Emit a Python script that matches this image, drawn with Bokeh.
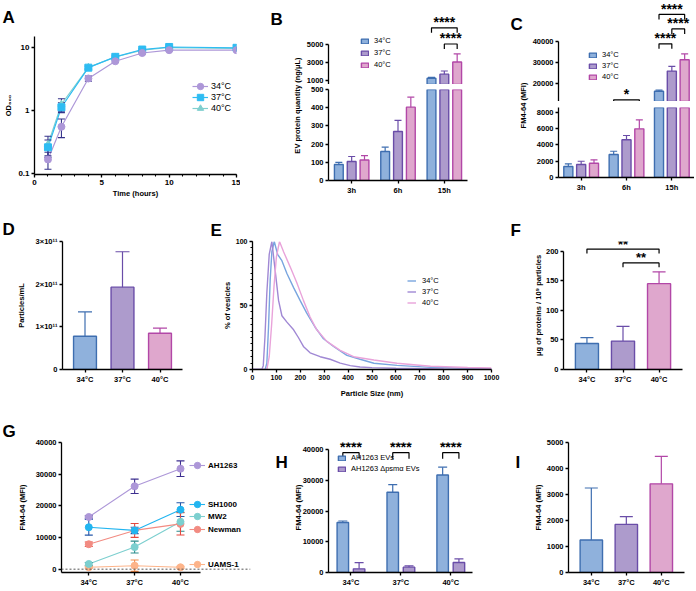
from bokeh.plotting import figure
from bokeh.models import (Range1d, FixedTicker, Label, Legend, LegendItem, Span,
                          ColumnDataSource, Title, Spacer)
from bokeh.layouts import row, column
from bokeh.embed import file_html
from bokeh.resources import INLINE

FONT = "Liberation Sans"

# ---------------- data ----------------
temps = ["34°C", "37°C", "40°C"]
times = ["3h", "6h", "15h"]

# A: growth curves (OD600)
time_h = [1, 2, 4, 6, 8, 10, 15]
od_34 = [0.167, 0.55, 3.2, 6.0, 8.1, 9.0, 9.0]
od_37 = [0.26, 1.12, 4.75, 7.05, 9.2, 10.1, 9.8]
od_40 = [0.29, 1.25, 4.8, 7.0, 9.0, 9.9, 9.6]
od_34_sd = [0.05, 0.18, 0.3, 0.25, 0.3, 0.3, 0.3]
od_37_sd = [0.08, 0.2, 0.25, 0.25, 0.3, 0.3, 0.3]
od_40_sd = [0.1, 0.28, 0.25, 0.25, 0.3, 0.3, 0.3]

# B: EV protein quantity (ng/uL)
ev_34 = [88, 159, 1200]
ev_37 = [104, 269, 1650]
ev_40 = [113, 403, 3000]
ev_34_sd = [12, 24, 100]
ev_37_sd = [28, 61, 350]
ev_40_sd = [24, 55, 900]
ev_sig = [(2, 0, 2, 6800, "****"), (2, 1, 2, 5000, "****")]

# C: FM4-64 (MFI)
fm_34 = [1350, 2830, 16300]
fm_37 = [1600, 4640, 25900]
fm_40 = [1760, 5990, 31300]
fm_34_sd = [330, 400, 500]
fm_37_sd = [400, 530, 2300]
fm_40_sd = [420, 1100, 2800]
fm_sig = [(2, 0, 2, 52900, "****"), (2, 1, 2, 46000, "****"), (2, 0, 1, 38900, "****"), (1, 0, 2, 12240, "*")]

# D: particles / mL
particles = [0.78e11, 1.93e11, 0.85e11]
particles_sd = [0.57e11, 0.83e11, 0.12e11]
particle_ticks = [0, 1e11, 2e11, 3e11]
particle_tick_labels = ["0", "1×10¹¹", "2×10¹¹", "3×10¹¹"]

# E: size distributions (% of vesicles)
size_34 = [0, 53, 60, 67, 74, 81, 91, 105, 123, 144, 172, 199, 227, 262, 297, 339, 395, 450, 508, 605, 745, 900, 1000]
pct_34 = [0, 0, 5, 33, 70, 92, 100, 90, 85, 75, 64, 54, 44, 33, 24, 18, 11, 8, 4.9, 3.2, 1.7, 1.0, 0.7]
size_37 = [0, 39, 45, 52, 60, 70, 81, 95, 109, 123, 144, 172, 192, 213, 241, 283, 325, 367, 409, 450, 500, 600, 800, 1000]
pct_37 = [0, 0, 3, 25, 60, 90, 100, 77, 54, 42, 37, 31, 25, 18, 13, 10, 8, 5, 3, 2, 1.5, 1.0, 0.5, 0.3]
size_40 = [0, 60, 70, 80, 90, 100, 113, 130, 158, 185, 213, 241, 269, 311, 367, 423, 508, 605, 745, 900, 1000]
pct_40 = [0, 0, 10, 35, 65, 88, 100, 92, 80, 68, 54, 41, 31, 22, 15, 10, 7.4, 4.9, 2.5, 1.6, 1.2]

# F: ug protein / 10^9 particles
prot = [44, 48, 145]
prot_sd = [10, 25, 20]
prot_sig = [(0, 2, 203.4, "**"), (1, 2, 180, "**")]

# G: FM4-64 of strains
strains = ["AH1263", "SH1000", "MW2", "Newman", "UAMS-1"]
g_vals = [[16480, 26180, 31720], [13240, 12240, 18790], [1630, 6970, 14970], [7880, 12240, 14300], [600, 1100, 600]]
g_sd = [[350, 2270, 2470], [2500, 1000, 2170], [500, 1880, 3000], [700, 2200, 3500], [300, 1800, 300]]

# H: AH1263 vs psm-alpha mutant
h_groups = ["AH1263 EVs", "AH1263 Δpsmα EVs"]
h_wt = [16300, 26200, 31800]
h_wt_sd = [500, 2450, 2550]
h_mut = [1190, 1750, 3260]
h_mut_sd = [2000, 440, 1180]
h_sig_level = 39100

# I
i_vals = [1250, 1850, 3410]
i_sd = [2000, 300, 1060]

# ---------------- style ----------------
FILL = ["#8fb1dc", "#ad9bcc", "#dfa7cd"]
EDGE = ["#3e6eb0", "#6a4da8", "#b247a7"]


def base_fig(w, h, l, r, t, b, xr, yr, xaxis=True, yaxis=True, ylog=False, fs="7.5px"):
    p = figure(width=w, height=h, x_range=xr, y_range=yr,
               x_axis_location="below" if xaxis else None,
               y_axis_location="left" if yaxis else None,
               y_axis_type="log" if ylog else "linear",
               output_backend="svg", toolbar_location=None, tools="", title=None)
    p.min_border_left = l
    p.min_border_right = r
    p.min_border_top = t
    p.min_border_bottom = b
    p.outline_line_color = None
    p.grid.grid_line_color = None
    p.background_fill_color = "white"
    p.border_fill_color = "white"
    for ax in list(p.xaxis) + list(p.yaxis):
        ax.axis_line_color = "black"
        ax.axis_line_width = 1.3
        ax.major_tick_line_color = "black"
        ax.major_tick_line_width = 1.3
        ax.major_tick_out = 3
        ax.major_tick_in = 0
        ax.minor_tick_line_color = None
        ax.major_label_text_font = FONT
        ax.major_label_text_font_style = "bold"
        ax.major_label_text_font_size = fs
        ax.major_label_text_color = "black"
        ax.major_label_standoff = 2
        ax.axis_label_text_font = FONT
        ax.axis_label_text_font_style = "bold"
        ax.axis_label_text_font_size = "7.5px"
        ax.axis_label_text_color = "black"
    return p


def title_only_fig(w, h, l, t, b, text):
    p = base_fig(w, h, l, 0, t, b, Range1d(0, 1), Range1d(0, 1), xaxis=False)
    p.yaxis.ticker = FixedTicker(ticks=[])
    p.yaxis.axis_line_color = None
    p.yaxis.major_tick_line_color = None
    p.yaxis.major_tick_out = 0
    p.yaxis.axis_label = text
    p.yaxis.axis_label_standoff = 0
    return p


def letter_fig(w, h, lx, ly, text):
    """Blank strip (pixel-like ranges, y from the top) holding a panel letter."""
    p = base_fig(w, h, 0, 0, 0, 0, Range1d(0, w), Range1d(h, 0), xaxis=False, yaxis=False)
    p.add_layout(Label(x=lx, y=ly, text=text, text_align="left", text_baseline="middle",
                       text_font=FONT, text_font_size="17px", text_font_style="bold",
                       text_color="black"))
    return p


def cat_axis(p, labels):
    p.xaxis.ticker = FixedTicker(ticks=[i + 1 for i in range(len(labels))])
    p.xaxis.major_label_overrides = {i + 1: s for i, s in enumerate(labels)}


def letter(p, t, offset, standoff):
    p.title = Title(text=t, align="left", vertical_align="top", offset=offset,
                    standoff=int(standoff), text_font=FONT, text_font_size="17px",
                    text_font_style="bold", text_color="black")


def ylab(p, text, standoff):
    p.yaxis.axis_label = text
    p.yaxis.axis_label_standoff = standoff


def add_bars(p, xs, vals, sds, width, fill, line, cap, lo=None, hi=None):
    """Bars with one-sided (upper) SD whiskers; lo/hi cut bars at an axis break."""
    idx = [i for i, v in enumerate(vals) if lo is None or v > lo]
    base = 0 if lo is None else lo
    tops = [vals[i] if hi is None else min(vals[i], hi) for i in idx]
    src = ColumnDataSource(dict(x=[xs[i] for i in idx], top=tops))
    r = p.vbar(x="x", top="top", bottom=base, width=width, source=src,
               fill_color=fill, line_color=line, line_width=1.4)
    keep = [i for i in idx if hi is None or vals[i] < hi]
    esrc = ColumnDataSource(dict(x=[xs[i] for i in keep], top=[vals[i] for i in keep],
                                 err=[vals[i] + sds[i] for i in keep]))
    p.segment(x0="x", y0="top", x1="x", y1="err", source=esrc, line_color=line, line_width=1.2)
    p.scatter(x="x", y="err", marker="dash", size=cap, source=esrc, line_color=line, line_width=1.2)
    return r


def bracket(p, x0, x1, y, leg, stars, lift, fs="14px"):
    p.line(x=[x0, x0, x1, x1], y=[y - leg, y, y, y - leg], line_color="black", line_width=1.2)
    p.add_layout(Label(x=(x0 + x1) / 2, y=y + lift, text=stars, text_align="center",
                       text_baseline="middle", text_font=FONT,
                       text_font_size=fs, text_font_style="bold", text_color="black"))


def legend(p, items, vx, vy, gw, gh, lh, fs, bold=False, spacing=0, standoff=4):
    lg = Legend(items=items, location=(vx, vy), orientation="vertical",
                glyph_width=gw, glyph_height=gh, label_height=lh, label_width=10,
                spacing=spacing, padding=0, margin=0, border_line_color=None,
                background_fill_alpha=0, label_text_font=FONT, label_text_font_size=fs,
                label_text_font_style="bold" if bold else "normal", label_standoff=standoff,
                label_text_color="black")
    p.add_layout(lg)


# ================= row 1 =================
# ---- A ----
pA = base_fig(240, 200, 34, 4, 36, 23, Range1d(0, 15), Range1d(0.0965, 14.8), ylog=True, fs="8px")
pA.xaxis.ticker = FixedTicker(ticks=[0, 5, 10, 15], minor_ticks=list(range(0, 16)))
pA.xaxis.minor_tick_line_color = "black"
pA.xaxis.minor_tick_out = 2
pA.xaxis.minor_tick_in = 0
pA.xaxis.minor_tick_line_width = 1.1
pA.yaxis.ticker = FixedTicker(ticks=[0.1, 1, 10])
pA.yaxis.major_label_overrides = {0.1: "0.1", 1: "1", 10: "10"}
pA.xaxis.axis_label = "Time (hours)"
pA.xaxis.axis_label_standoff = 1
ylab(pA, "OD₆₀₀", 2)
letter(pA, "A", -32, 15)
A_series = [(od_40, od_40_sd, "#80cfcf", "triangle"), (od_37, od_37_sd, "#2ebcf2", "square"),
            (od_34, od_34_sd, "#ad97d8", "circle")]
ERR_A = "#35338a"
a_src, a_lines = [], []
for vals, sd, col, mk in A_series:
    src = ColumnDataSource(dict(t=time_h, y=vals, lo=[v - s for v, s in zip(vals, sd)],
                                hi=[v + s for v, s in zip(vals, sd)]))
    a_src.append(src)
    a_lines.append(pA.line("t", "y", source=src, line_color=col, line_width=1.2))
for src in a_src:
    pA.segment("t", "lo", "t", "hi", source=src, line_color=ERR_A, line_width=1.1)
    pA.scatter("t", "lo", marker="dash", size=7, source=src, line_color=ERR_A, line_width=1.1)
    pA.scatter("t", "hi", marker="dash", size=7, source=src, line_color=ERR_A, line_width=1.1)
a_marks = []
for (vals, sd, col, mk), src in zip(A_series, a_src):
    a_marks.append(pA.scatter("t", "y", marker=mk, size=7, source=src, fill_color=col, line_color=col))
for k, name in enumerate(temps):
    j = 2 - k
    legend(pA, [LegendItem(label=name, renderers=[a_lines[j], a_marks[j]])],
           158, 79 - 11 * k, 16, 18, 18, "9px", standoff=3)

# ---- B ----
B_OFF, B_W, B_BREAK = 0.277, 0.19, 500
Bt = title_only_fig(63, 200, 61, 32, 0, "EV protein quantity (ng/μL)")
letter(Bt, "B", -31, 11)
Bu = base_fig(165, 84, 23, 1, 12, 0, Range1d(0.5, 3.5), Range1d(B_BREAK, 8500), xaxis=False)
Bl = base_fig(165, 116, 23, 1, 5, 20, Range1d(0.5, 3.5), Range1d(0, B_BREAK))
Bu.yaxis.ticker = FixedTicker(ticks=[1000, 3000, 5000])
Bu.yaxis.bounds = (B_BREAK, 5000)
Bl.yaxis.ticker = FixedTicker(ticks=[0, 100, 200, 300, 400, 500])
cat_axis(Bl, times)
b_rend = []
for k, (v, s) in enumerate([(ev_34, ev_34_sd), (ev_37, ev_37_sd), (ev_40, ev_40_sd)]):
    xs = [g + 1 + (k - 1) * B_OFF for g in range(3)]
    b_rend.append(add_bars(Bu, xs, v, s, B_W, FILL[k], EDGE[k], 7, lo=B_BREAK))
    add_bars(Bl, xs, v, s, B_W, FILL[k], EDGE[k], 7, hi=B_BREAK)
for g, k0, k1, lev, st in ev_sig:
    bracket(Bu, g + 1 + (k0 - 1) * B_OFF, g + 1 + (k1 - 1) * B_OFF, lev, 555, st, 640)
legend(Bu, [LegendItem(label=t, renderers=[r]) for t, r in zip(temps, b_rend)],
       32, 14, 9, 6, 11, "7.5px", spacing=1, standoff=5)

# ---- C ----
C_OFF, C_W, C_LO, C_BREAK = 0.283, 0.2, 11429, 8615
Ct = title_only_fig(61, 200, 59, 22, 22, "FM4-64 (MFI)")
letter(Ct, "C", -17, 1)
Cu = base_fig(165, 101, 27, 0, 1, 0, Range1d(0.5, 3.5), Range1d(C_LO, 59048), xaxis=False)
Cl = base_fig(165, 97, 27, 0, 4, 23, Range1d(0.5, 3.5), Range1d(0, C_BREAK))
Cu.yaxis.ticker = FixedTicker(ticks=[20000, 30000, 40000])
Cu.yaxis.bounds = (C_LO, 40000)
Cl.yaxis.ticker = FixedTicker(ticks=[0, 2000, 4000, 6000, 8000])
cat_axis(Cl, times)
c_rend = []
for k, (v, s) in enumerate([(fm_34, fm_34_sd), (fm_37, fm_37_sd), (fm_40, fm_40_sd)]):
    xs = [g + 1 + (k - 1) * C_OFF for g in range(3)]
    c_rend.append(add_bars(Cu, xs, v, s, C_W, FILL[k], EDGE[k], 7, lo=C_LO))
    add_bars(Cl, xs, v, s, C_W, FILL[k], EDGE[k], 7, hi=C_BREAK)
for g, k0, k1, lev, st in fm_sig:
    bracket(Cu, g + 1 + (k0 - 1) * C_OFF, g + 1 + (k1 - 1) * C_OFF, lev, 2380, st, 2750)
legend(Cu, [LegendItem(label=t, renderers=[r]) for t, r in zip(temps, c_rend)],
       30, 19, 9, 6, 11, "7.5px", spacing=0, standoff=5)

# ================= row 2 =================
# ---- D ----
pD = base_fig(205, 200, 62, 23, 41, 23, Range1d(0.4, 3.6), Range1d(0, 3e11))
cat_axis(pD, temps)
pD.yaxis.ticker = FixedTicker(ticks=particle_ticks)
pD.yaxis.major_label_overrides = dict(zip(particle_ticks, particle_tick_labels))
ylab(pD, "Particles/mL", 7)
letter(pD, "D", -60, 2)
for k in range(3):
    add_bars(pD, [k + 1], [particles[k]], [particles_sd[k]], 0.61, FILL[k], EDGE[k], 14)

# ---- E ----
pE = base_fig(295, 200, 47, 9, 39, 28, Range1d(0, 1000), Range1d(0, 100), fs="7px")
pE.xaxis.ticker = FixedTicker(ticks=list(range(0, 1001, 100)))
pE.yaxis.ticker = FixedTicker(ticks=[0, 50, 100], minor_ticks=list(range(0, 101, 5)))
pE.yaxis.minor_tick_line_color = "black"
pE.yaxis.minor_tick_out = 2
pE.yaxis.minor_tick_in = 0
pE.xaxis.axis_label = "Particle Size (nm)"
pE.xaxis.axis_label_standoff = 6
ylab(pE, "% of vesicles", 1)
letter(pE, "E", -42, 0)
E_COL = ["#79a5df", "#a088d4", "#e9a3da"]
e_rend = []
for k, (xs, ys) in enumerate([(size_34, pct_34), (size_37, pct_37), (size_40, pct_40)]):
    e_rend.append(pE.line(xs, ys, line_color=E_COL[k], line_width=1.4))
legend(pE, [LegendItem(label=t, renderers=[r]) for t, r in zip(temps, e_rend)],
       155, 61, 9, 11, 11, "7.5px", spacing=0, standoff=6)

# ---- F ----
pF = base_fig(194, 200, 63, 12, 32, 21, Range1d(0.35, 3.65), Range1d(0, 216.2))
cat_axis(pF, temps)
pF.yaxis.ticker = FixedTicker(ticks=[0, 50, 100, 150, 200])
pF.yaxis.bounds = (0, 200)
ylab(pF, "μg of proteins / 10⁹ particles", 0)
letter(pF, "F", -53, 0)
for k in range(3):
    add_bars(pF, [k + 1], [prot[k]], [prot_sd[k]], 0.64, FILL[k], EDGE[k], 13)
for k0, k1, lev, st in prot_sig:
    bracket(pF, k0 + 1, k1 + 1, lev, 7.3, st, 8.5, fs="13px")

# ================= row 3 =================
# ---- G ----
pG = base_fig(262, 189, 61, 12, 42, 14, Range1d(0.405, 4.527), Range1d(-1050, 40000))
cat_axis(pG, temps)
pG.xaxis.bounds = (0.405, 3.436)
pG.yaxis.ticker = FixedTicker(ticks=[0, 10000, 20000, 30000, 40000])
ylab(pG, "FM4-64 (MFI)", 6)
letter(pG, "G", -59, 0)
pG.add_layout(Span(location=0, dimension="width", line_color="#555555", line_dash="2 2", line_width=1))
G_COL = ["#ad97d8", "#22b5f0", "#7ccfcf", "#f28b82", "#fdb48a"]
G_ERR = ["#3d2f8f", "#2557a8", "#2a8c8c", "#e5483e", "#f28a4a"]
g_src, g_lines = [], []
for k in range(5):
    src = ColumnDataSource(dict(x=[1, 2, 3], y=g_vals[k],
                                lo=[v - s for v, s in zip(g_vals[k], g_sd[k])],
                                hi=[v + s for v, s in zip(g_vals[k], g_sd[k])]))
    g_src.append(src)
    g_lines.append(pG.line("x", "y", source=src, line_color=G_COL[k], line_width=1.1))
for k in range(5):
    src = g_src[k]
    pG.segment("x", "lo", "x", "hi", source=src, line_color=G_ERR[k], line_width=1.1)
    pG.scatter("x", "lo", marker="dash", size=8, source=src, line_color=G_ERR[k], line_width=1.1)
    pG.scatter("x", "hi", marker="dash", size=8, source=src, line_color=G_ERR[k], line_width=1.1)
g_marks = [None] * 5
for k in range(4, -1, -1):
    g_marks[k] = pG.scatter("x", "y", marker="circle", size=7, source=g_src[k],
                            fill_color=G_COL[k], line_color=G_COL[k])
g_leg_vy = [98, 59, 47, 34, -1]
for k in range(5):
    legend(pG, [LegendItem(label=strains[k], renderers=[g_lines[k], g_marks[k]])],
           128, g_leg_vy[k], 16, 18, 18, "8px", bold=True, standoff=3)

# ---- H ----
Ht = letter_fig(28, 189, 13, 28.5, "H")
H_OFF, H_W = 0.163, 0.23
pH = base_fig(215, 189, 32, 33, 34, 14, Range1d(0.55, 3.435), Range1d(0, 42406))
cat_axis(pH, temps)
pH.yaxis.ticker = FixedTicker(ticks=[0, 10000, 20000, 30000, 40000])
pH.yaxis.bounds = (0, 40000)
ylab(pH, "FM4-64 (MFI)", -3)
h_r1 = add_bars(pH, [g + 1 - H_OFF for g in range(3)], h_wt, h_wt_sd, H_W, FILL[0], EDGE[0], 9)
h_r2 = add_bars(pH, [g + 1 + H_OFF for g in range(3)], h_mut, h_mut_sd, H_W, FILL[1], EDGE[1], 9)
for g in range(3):
    bracket(pH, g + 1 - H_OFF, g + 1 + H_OFF, h_sig_level, 2015, "****", 1800)
legend(pH, [LegendItem(label=h_groups[0], renderers=[h_r1]), LegendItem(label=h_groups[1], renderers=[h_r2])],
       9, 98, 9, 6, 11, "7.5px", spacing=0, standoff=5)

# ---- I ----
It = letter_fig(25, 189, 10, 28.5, "I")
pI = base_fig(164, 189, 37, 10, 42, 14, Range1d(0.348, 3.662), Range1d(0, 5000))
cat_axis(pI, temps)
pI.yaxis.ticker = FixedTicker(ticks=[0, 1000, 2000, 3000, 4000, 5000])
ylab(pI, "FM4-64 (MFI)", 1)
for k in range(3):
    add_bars(pI, [k + 1], [i_vals[k]], [i_sd[k]], 0.64, FILL[k], EDGE[k], 13)

root = column(row(pA, Bt, column(Bu, Bl), Ct, column(Cu, Spacer(width=165, height=2), Cl)),
              row(pD, pE, pF),
              row(pG, Ht, pH, It, pI))

open("out.html", "w").write(file_html(root, INLINE, title="EV figure"))
